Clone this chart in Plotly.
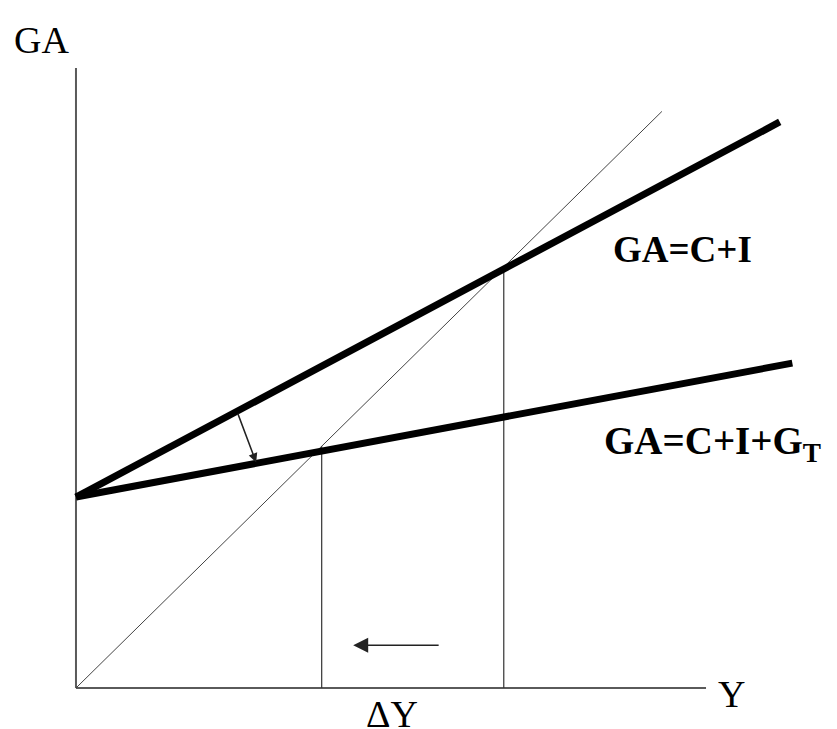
import plotly.graph_objects as go

# ---- data (model units) ----
axis_len_x = 100
axis_len_y = 100
line45_x = [0, 93]
line45_y = [0, 93]
ci_x = [0, 111.7]          # GA = C + I
ci_y = [30.8, 91.3]
cig_x = [0, 113.7]         # GA = C + I + G_T
cig_y = [30.8, 52.4]
eq_y_values = [67.9, 39.0]  # equilibria Y0, Y1
shift_from = [25.6, 44.5]   # arrow from upper line
shift_to = [28.6, 36.4]     # to lower line
move_from = [57.8, 6.9]     # arrow showing decrease in Y
move_to = [44.0, 6.9]

labels = {
    "GA": (-5.4, 104.5),
    "Y": (104.1, -1.0),
    "ΔY": (50.2, -4.2),
}

fig = go.Figure()

# axes
fig.add_trace(go.Scatter(x=[0, axis_len_x], y=[0, 0], mode="lines",
                         line=dict(color="#5a5a5a", width=2), hoverinfo="skip"))
fig.add_trace(go.Scatter(x=[0, 0], y=[0, axis_len_y], mode="lines",
                         line=dict(color="#5a5a5a", width=2), hoverinfo="skip"))
# 45 degree line
fig.add_trace(go.Scatter(x=line45_x, y=line45_y, mode="lines",
                         line=dict(color="#444444", width=1), hoverinfo="skip"))
# vertical equilibrium lines
for ye in eq_y_values:
    fig.add_trace(go.Scatter(x=[ye, ye], y=[0, ye], mode="lines",
                             line=dict(color="#333333", width=1.2), hoverinfo="skip"))
# aggregate demand lines
fig.add_trace(go.Scatter(x=ci_x, y=ci_y, mode="lines",
                         line=dict(color="black", width=7), hoverinfo="skip"))
fig.add_trace(go.Scatter(x=cig_x, y=cig_y, mode="lines",
                         line=dict(color="black", width=7), hoverinfo="skip"))

serif = "Liberation Serif"
for txt, (x, y) in labels.items():
    fig.add_annotation(x=x, y=y, text=txt, showarrow=False,
                       font=dict(family=serif, size=38, color="black"))

fig.add_annotation(x=96.2, y=70.8, text="<b>GA=C+I</b>", showarrow=False,
                   font=dict(family=serif, size=37, color="black"))
fig.add_annotation(x=83.5, y=39.5, text="<b>GA=C+I+G<sub>T</sub></b>", showarrow=False,
                   xanchor="left", font=dict(family=serif, size=39, color="black"))

# arrows
fig.add_annotation(x=shift_to[0], y=shift_to[1], ax=shift_from[0], ay=shift_from[1],
                   xref="x", yref="y", axref="x", ayref="y", text="", showarrow=True,
                   arrowhead=2, arrowwidth=1.5, arrowsize=1.2, arrowcolor="#222222")
fig.add_annotation(x=move_to[0], y=move_to[1], ax=move_from[0], ay=move_from[1],
                   xref="x", yref="y", axref="x", ayref="y", text="", showarrow=True,
                   arrowhead=2, arrowwidth=1.5, arrowsize=2, arrowcolor="#222222")

fig.update_layout(
    width=829, height=721,
    margin=dict(l=0, r=0, t=0, b=0),
    plot_bgcolor="white", paper_bgcolor="white",
    showlegend=False,
    xaxis=dict(range=[-10.79, 120.79], visible=False, fixedrange=True),
    yaxis=dict(range=[-6.61, 109.68], visible=False, fixedrange=True),
)

fig.write_html("out.html")
